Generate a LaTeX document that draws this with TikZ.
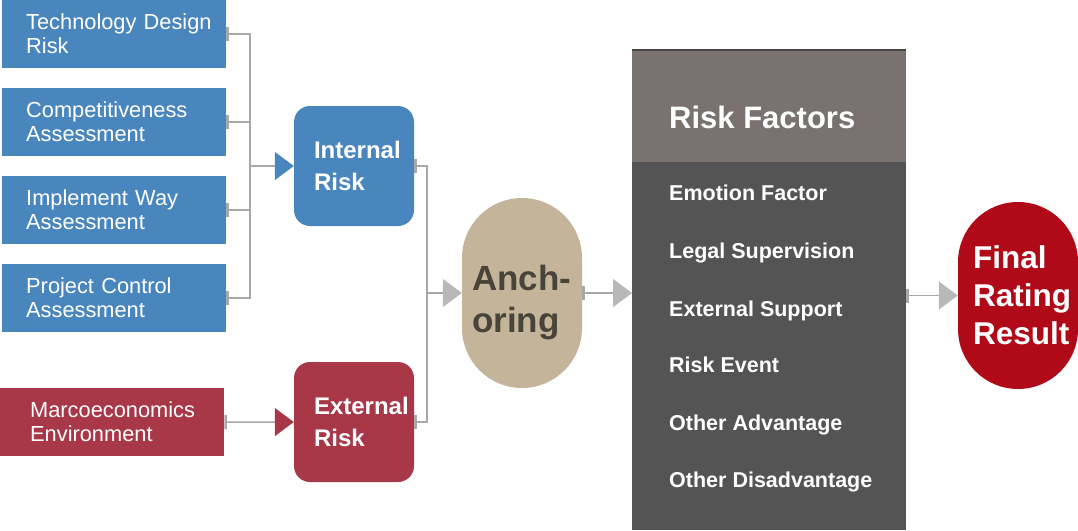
\documentclass[tikz,border=0pt]{standalone}
\usepackage{fontspec}
\setmainfont{Liberation Sans}
\usetikzlibrary{arrows.meta}

\definecolor{blueRisk}{HTML}{4A86BE}
\definecolor{redRisk}{HTML}{A83748}
\definecolor{tanPill}{HTML}{C4B59A}
\definecolor{finalRed}{HTML}{B00A18}
\definecolor{bandGray}{HTML}{79726E}
\definecolor{bodyGray}{HTML}{545454}
\definecolor{rimGray}{HTML}{444444}
\definecolor{lineGray}{HTML}{A8A8A8}
\definecolor{tipGray}{HTML}{B8B8B8}
\definecolor{pillText}{HTML}{48443A}

\tikzset{
  leaf/.style={rectangle, anchor=north west, fill=blueRisk, text=white,
    minimum width=224pt, minimum height=68pt, text width=176pt,
    inner xsep=24pt, inner ysep=0pt, align=left,
    font=\fontsize{21.8}{24}\selectfont},
  risk/.style={rectangle, rounded corners=16pt, minimum size=120pt,
    text=white, text width=80pt, inner sep=0pt, align=left,
    font=\bfseries\fontsize{24}{32}\selectfont},
  pill/.style={rectangle, rounded corners=60pt, minimum width=120pt,
    minimum height=190pt, inner sep=0pt, align=left},
  pilltext/.style={anchor=north west, inner sep=0pt, align=left,
    text=pillText, font=\bfseries\fontsize{35}{42}\selectfont},
  factor/.style={anchor=base west, inner sep=0pt, text=white,
    font=\bfseries\fontsize{21.5}{26}\selectfont},
  line/.style={draw=lineGray, line width=1.5pt},
  feed/.style={line, {Bar[width=14pt,line width=2.5pt]}-},
  into/.style={line, -{Triangle[length=19pt,width=28pt,color=#1]}},
  into/.default=tipGray,
  push/.style={line, {Bar[width=14pt,line width=2.5pt]}-{Triangle[length=19pt,width=28pt,color=#1]}},
  push/.default=tipGray
}

\begin{document}
\begin{tikzpicture}[x=1pt,y=-1pt]
    \useasboundingbox (0,0) rectangle (1078,530);

    \node[leaf] at (2,0) (tech) {\mbox{Technology Design}\\Risk};
    \node[leaf] at (2,88) (comp) {Competitiveness\\Assessment};
    \node[leaf] at (2,176) (impl) {Implement Way\\Assessment};
    \node[leaf] at (2,264) (proj) {Project Control\\Assessment};
    \node[leaf, fill=redRisk, inner xsep=30pt, text width=164pt] at (0,388) (macro) {Marcoeconomics\\Environment};

    \node[risk, fill=blueRisk] at (354,166) (inner) {Internal\\Risk};
    \node[risk, fill=redRisk] at (354,422) (outer) {External\\Risk};

    \node[pill, fill=tanPill] at (522,293) (anchor) {};
    \node[pilltext] at (472,265) (anchortext) {Anch-\\oring};

    \node[rectangle, anchor=north west, fill=bodyGray, inner sep=0pt,
      minimum width=274pt, minimum height=480pt] at (632,50) (panel) {};
    \node[rectangle, anchor=north west, fill=bandGray, inner sep=0pt,
      minimum width=274pt, minimum height=112pt] at (panel.north west) (band) {};
    \draw[rimGray, line width=2pt] (panel.north west) -- (panel.north east);
    \node[factor, font=\bfseries\fontsize{31}{36}\selectfont] at (669,128) (title) {Risk Factors};
    \node[factor] at (669,200) (emotion) {Emotion Factor};
    \node[factor] at (669,258) (legal) {Legal Supervision};
    \node[factor] at (669,316) (support) {External Support};
    \node[factor] at (669,372) (event) {Risk Event};
    \node[factor] at (669,430) (advantage) {Other Advantage};
    \node[factor] at (669,487) (disadvantage) {Other Disadvantage};

    \node[pill, fill=finalRed, minimum height=187pt, text=white, text width=90pt,
      font=\bfseries\fontsize{31.5}{38}\selectfont] at (1018,295.5) (final) {Final\\Rating\\Result};

    \coordinate (busI) at (250,166);
    \coordinate (busA) at (427,293);

    \draw[feed] (tech.east) -| (busI);
    \draw[feed] (comp.east) -| (busI);
    \draw[feed] (impl.east) -| (busI);
    \draw[feed] (proj.east) -| (busI);
    \draw[into=blueRisk] (busI) -- (inner.west);
    \draw[push=redRisk] (macro.east) -- (outer.west);

    \draw[feed] (inner.east) -| (busA);
    \draw[feed] (outer.east) -| (busA);
    \draw[into] (busA) -- (anchor.west);
    \draw[push] (anchor.east) -- (anchor.east -| panel.west);
    \draw[push] (final.west -| panel.east) -- (final.west);
\end{tikzpicture}
\end{document}
